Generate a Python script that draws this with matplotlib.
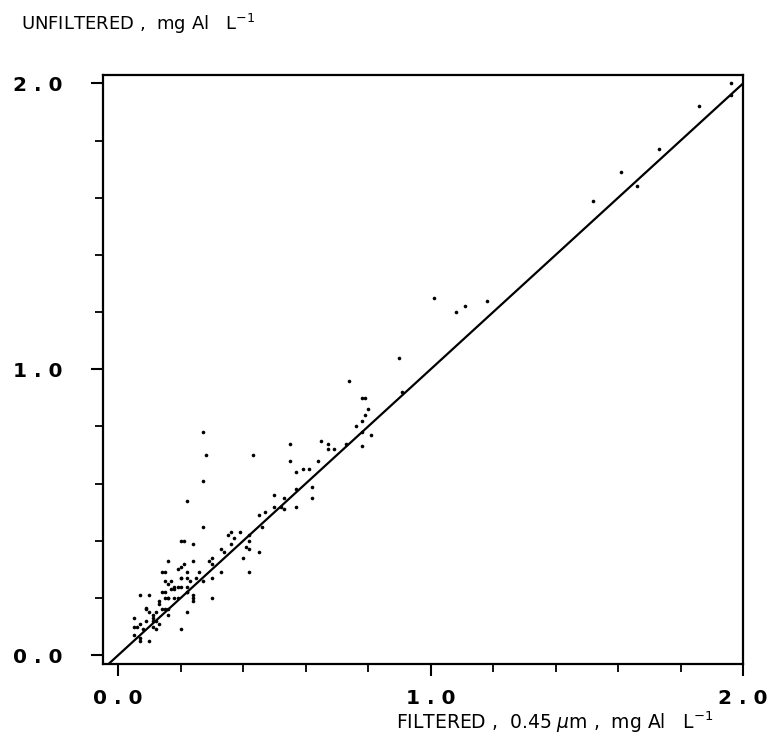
import matplotlib
matplotlib.use("Agg")
import matplotlib.pyplot as plt
from matplotlib.ticker import MultipleLocator, FixedLocator

# filtered (0.45 um) vs unfiltered Al, mg/l
filtered = [
    1.96, 1.96, 1.86, 1.73, 1.61, 1.66, 1.52,
    1.01, 1.08, 1.11, 1.18, 0.90, 0.91,
    0.74, 0.78, 0.79, 0.80, 0.79, 0.78, 0.76, 0.78, 0.81, 0.78, 0.73, 0.69,
    0.65, 0.67, 0.67, 0.55, 0.43, 0.55, 0.64, 0.57, 0.59, 0.61, 0.62, 0.62,
    0.57, 0.57, 0.50, 0.53, 0.50, 0.52, 0.53, 0.47, 0.45, 0.46, 0.42, 0.39, 0.41,
    0.27, 0.28, 0.27, 0.22, 0.27, 0.20, 0.21, 0.24, 0.36, 0.35, 0.37, 0.36,
    0.33, 0.42, 0.42, 0.34, 0.45, 0.40, 0.42, 0.33, 0.30, 0.29, 0.30, 0.24,
    0.21, 0.19, 0.26, 0.25, 0.22, 0.20, 0.27, 0.30, 0.20, 0.22, 0.23, 0.18,
    0.18, 0.19, 0.22, 0.24, 0.24, 0.30,
    0.16, 0.15, 0.20, 0.20, 0.22,
    0.07, 0.10, 0.20, 0.10, 0.22, 0.05, 0.05, 0.05, 0.06, 0.07, 0.08, 0.07,
    0.09, 0.10, 0.11, 0.09, 0.11, 0.12, 0.13, 0.14, 0.15, 0.14, 0.17, 0.16,
    0.17, 0.15, 0.16, 0.15, 0.14, 0.11, 0.12, 0.07,
    0.09, 0.11, 0.12, 0.13, 0.13, 0.16, 0.15, 0.18, 0.19, 0.16, 0.16, 0.22, 0.24,
]
unfiltered = [
    2.00, 1.96, 1.92, 1.77, 1.69, 1.64, 1.59,
    1.25, 1.20, 1.22, 1.24, 1.04, 0.92,
    0.96, 0.90, 0.90, 0.86, 0.84, 0.82, 0.80, 0.78, 0.77, 0.73, 0.74, 0.72,
    0.75, 0.74, 0.72, 0.74, 0.70, 0.68, 0.68, 0.64, 0.65, 0.65, 0.59, 0.55,
    0.58, 0.52, 0.56, 0.55, 0.52, 0.52, 0.51, 0.50, 0.49, 0.45, 0.42, 0.43, 0.38,
    0.78, 0.70, 0.61, 0.54, 0.45, 0.40, 0.40, 0.39, 0.43, 0.42, 0.41, 0.39,
    0.37, 0.40, 0.37, 0.36, 0.36, 0.34, 0.29, 0.29, 0.34, 0.33, 0.32, 0.33,
    0.32, 0.30, 0.29, 0.27, 0.27, 0.27, 0.26, 0.27, 0.24, 0.24, 0.26, 0.24,
    0.20, 0.20, 0.22, 0.20, 0.19, 0.20,
    0.33, 0.29, 0.31, 0.27, 0.29,
    0.21, 0.21, 0.09, 0.05, 0.15, 0.13, 0.10, 0.07, 0.10, 0.11, 0.09, 0.05,
    0.16, 0.15, 0.13, 0.12, 0.12, 0.15, 0.18, 0.22, 0.26, 0.29, 0.26, 0.25,
    0.23, 0.20, 0.20, 0.16, 0.16, 0.10, 0.09, 0.06,
    0.165, 0.14, 0.12, 0.11, 0.19, 0.20, 0.22, 0.23, 0.24, 0.14, 0.16, 0.22, 0.21,
]
tick_vals = [0.0, 1.0, 2.0]
tick_labels = ["0 . 0", "1 . 0", "2 . 0"]

fig = plt.figure(figsize=(7.7, 7.56), dpi=100)
ax = fig.add_axes([0.134, 0.122, 0.831, 0.779])

ax.plot(filtered, unfiltered, "o", color="black", ms=2.6, mec="none")
ax.plot([-0.05, 2.05], [-0.05, 2.05], color="black", lw=1.6)

ax.set_xlim(-0.048, 2.0)
ax.set_ylim(-0.03, 2.03)

ax.xaxis.set_major_locator(FixedLocator(tick_vals))
ax.yaxis.set_major_locator(FixedLocator(tick_vals))
ax.xaxis.set_minor_locator(MultipleLocator(0.2))
ax.yaxis.set_minor_locator(MultipleLocator(0.2))
ax.set_xticklabels(tick_labels)
ax.set_yticklabels(tick_labels)
ax.tick_params(which="major", direction="out", length=8.5, width=1.5,
               labelsize=14.5)
ax.tick_params(which="minor", direction="out", length=5.5, width=1.3)
ax.tick_params(top=False, right=False)
ax.tick_params(axis="x", which="major", pad=10)
ax.tick_params(axis="y", which="major", pad=21)
for lbl in ax.get_xticklabels() + ax.get_yticklabels():
    lbl.set_fontweight("bold")

for s in ax.spines.values():
    s.set_linewidth(1.6)

fig.text(0.027, 0.968, "UNFILTERED ,  mg Al   L$^{-1}$", fontsize=13,
         ha="left", va="center")
fig.text(0.72, 0.045, r"FILTERED ,  0.45 $\mu$m ,  mg Al   L$^{-1}$",
         fontsize=13.5, ha="center", va="center")

plt.savefig("out.png", dpi=100)
